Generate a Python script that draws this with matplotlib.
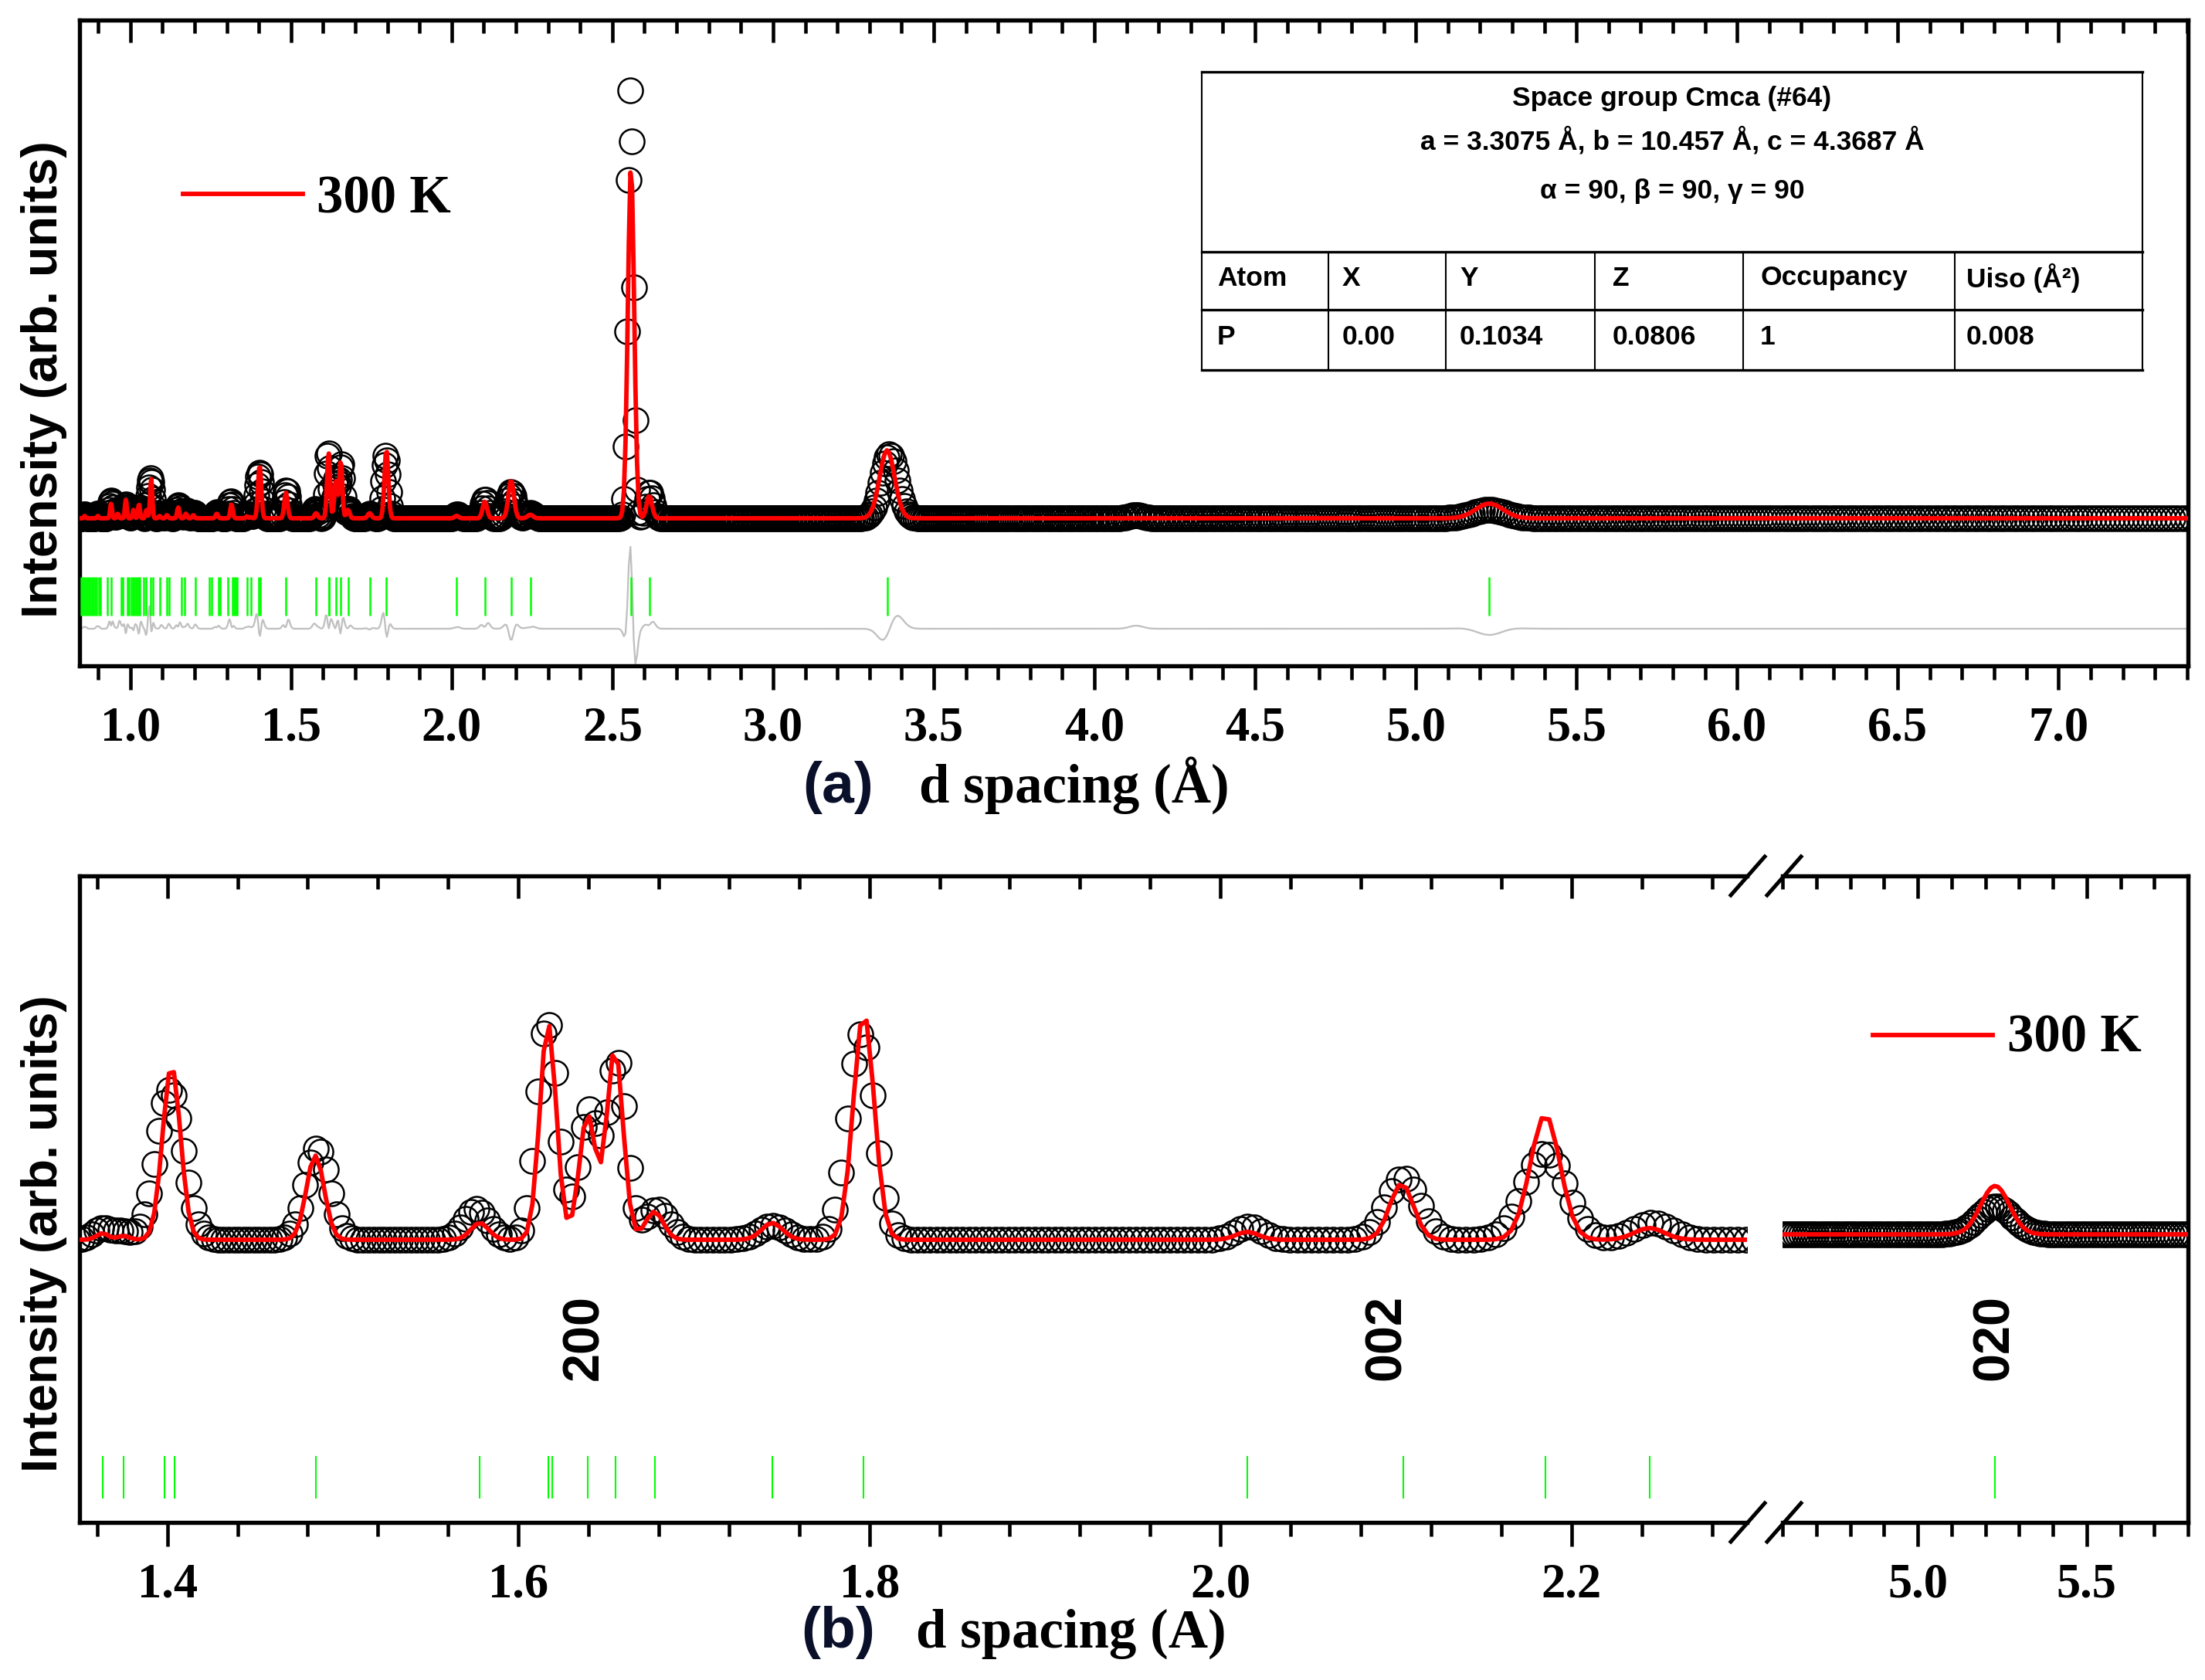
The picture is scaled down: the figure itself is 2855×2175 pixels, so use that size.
import numpy as np
import matplotlib
matplotlib.use('Agg')
import matplotlib.pyplot as plt
from matplotlib.lines import Line2D
from matplotlib.ticker import MultipleLocator, FormatStrFormatter

plt.rcParams['font.family'] = 'Liberation Serif'
plt.rcParams['font.weight'] = 'bold'

W, H = 2855, 2175

# time-of-flight bins (constant dd/d)
d_first = 0.84
d_last = 7.45
bin_ratio = 0.002

obs_d = [0.858, 0.899, 0.940, 0.965, 0.986, 1.012, 1.030, 1.063, 1.095, 1.118,
         1.150, 1.175, 1.200, 1.270, 1.313, 1.363, 1.375, 1.4015, 1.4855, 1.576,
         1.6165, 1.640, 1.656, 1.679, 1.745, 1.7955, 2.016, 2.104, 2.185, 2.246,
         2.557, 2.616, 3.362, 4.130, 5.229]
obs_h = [0.5, 0.6, 2.3, 1.2, 1.8, 1.0, 1.4, 5.2, 0.6, 0.8,
         1.7, 1.0, 0.7, 0.8, 2.2, 0.45, 0.3, 5.9, 3.6, 1.2,
         8.6, 5.0, 7.0, 1.2, 0.56, 8.1, 0.52, 2.45, 3.4, 0.66,
         55.6, 3.4, 8.3, 0.4, 1.1]
obs_w = [0.010, 0.010, 0.012, 0.012, 0.012, 0.012, 0.012, 0.013, 0.012, 0.012,
         0.013, 0.013, 0.013, 0.014, 0.014, 0.012, 0.012, 0.018, 0.016, 0.016,
         0.014, 0.013, 0.013, 0.016, 0.018, 0.018, 0.018, 0.022, 0.028, 0.026,
         0.020, 0.025, 0.060, 0.050, 0.120]

# calculated (refined) peaks
calc_d = [0.858, 0.899, 0.940, 0.961, 0.986, 1.010, 1.027, 1.050, 1.065, 1.091,
          1.114, 1.149, 1.173, 1.196, 1.269, 1.315, 1.363, 1.375, 1.4024, 1.4843,
          1.578, 1.6169, 1.6394, 1.655, 1.6775, 1.7446, 1.7968, 2.0153, 2.1032, 2.185,
          2.2444, 2.558, 2.615, 3.355, 5.229]
calc_h = [0.3, 0.3, 1.9, 0.6, 2.4, 1.1, 1.8, 1.1, 5.1, 0.3,
          0.4, 1.4, 0.6, 0.4, 0.6, 1.8, 0.25, 0.15, 6.8, 3.3,
          0.66, 8.5, 4.9, 7.5, 1.1, 0.66, 8.9, 0.31, 2.2, 4.9,
          0.46, 45.5, 2.9, 8.8, 1.9]
calc_w = [0.006, 0.006, 0.007, 0.007, 0.007, 0.007, 0.007, 0.007, 0.008, 0.008,
          0.008, 0.008, 0.008, 0.008, 0.009, 0.009, 0.008, 0.008, 0.012, 0.012,
          0.012, 0.011, 0.011, 0.011, 0.012, 0.014, 0.014, 0.015, 0.016, 0.020,
          0.020, 0.023, 0.020, 0.055, 0.100]

# Bragg reflection positions (green ticks)
bragg_d = [0.846, 0.851, 0.856, 0.861, 0.866, 0.871, 0.876, 0.881, 0.886, 0.891,
           0.896, 0.901, 0.906, 0.928, 0.940, 0.971, 0.976, 0.992, 0.997, 1.002,
           1.007, 1.012, 1.017, 1.022, 1.027, 1.030, 1.042, 1.048, 1.064, 1.070,
           1.093, 1.114, 1.121, 1.159, 1.170, 1.202, 1.245, 1.252, 1.275, 1.280,
           1.303, 1.317, 1.322, 1.327, 1.333, 1.363, 1.375, 1.3984, 1.404, 1.4847,
           1.578, 1.6173, 1.6193, 1.6394, 1.6554, 1.678, 1.7446, 1.7968, 2.0153, 2.104,
           2.185, 2.2444, 2.559, 2.615, 3.357, 5.229]

hkl_text = ['200', '002', '020']
hkl_d = [1.6377, 2.095, 5.229]

table_head = ['Space group Cmca (#64)',
              'a = 3.3075 Å, b = 10.457 Å, c = 4.3687 Å',
              'α = 90, β = 90, γ = 90']
table_cols = ['Atom', 'X', 'Y', 'Z', 'Occupancy', 'Uiso (Å²)']
table_vals = ['P', '0.00', '0.1034', '0.0806', '1', '0.008']


def profile(x, pos, height, fwhm):
    y = np.zeros_like(x)
    for p, h, w in zip(pos, height, fwhm):
        s = w / 2.3548
        y += h * np.exp(-0.5 * ((x - p) / s) ** 2)
    return y


nbin = int(np.log(d_last / d_first) / np.log(1 + bin_ratio)) + 1
d = d_first * (1 + bin_ratio) ** np.arange(nbin)
yobs = profile(d, obs_d, obs_h, obs_w)
ycalc = profile(d, calc_d, calc_h, calc_w)
ydiff = yobs - ycalc


def fx(x):
    return x / W


def fy(y):
    return 1 - y / H


def rect(l, t, r, b):
    return [fx(l), fy(b), fx(r) - fx(l), fy(t) - fy(b)]


def style_x(ax, major, minor, fmt, lo, hi):
    ax.set_xlim(lo, hi)
    ax.xaxis.set_major_locator(MultipleLocator(major))
    ax.xaxis.set_minor_locator(MultipleLocator(minor))
    ax.xaxis.set_major_formatter(FormatStrFormatter(fmt))
    ax.tick_params(axis='x', which='major', direction='out', length=7.5, width=1.1,
                   labelsize=15, pad=5)
    ax.tick_params(axis='x', which='minor', direction='out', length=4.2, width=1.1)
    ax.tick_params(axis='y', left=False, right=False, labelleft=False)
    for s in ax.spines.values():
        s.set_linewidth(1.3)
    tw = ax.twiny()
    tw.set_xlim(lo, hi)
    tw.xaxis.set_major_locator(MultipleLocator(major))
    tw.xaxis.set_minor_locator(MultipleLocator(minor))
    tw.tick_params(axis='x', which='major', direction='in', length=7.0, width=1.1,
                   labeltop=False)
    tw.tick_params(axis='x', which='minor', direction='in', length=4.0, width=1.1)
    for s in tw.spines.values():
        s.set_visible(False)
    return tw


def draw_data(ax, tick_lo, tick_hi, tick_lw):
    ax.plot(d, yobs, 'o', mfc='none', mec='black', ms=7.7, mew=0.6, zorder=2)
    ax.plot(d, ycalc, color='#ff0000', lw=1.4, zorder=3)
    ax.vlines(bragg_d, tick_lo, tick_hi, color='#00ff00', lw=tick_lw, zorder=3)


fig = plt.figure(figsize=(W / 300, H / 300), dpi=300)

# ---- (a) full pattern
ax1 = fig.add_axes(rect(103, 26, 2833, 862))
draw_data(ax1, -12.6, -7.6, 0.6)
ax1.plot(d, ydiff - 14.3, color='#c0c0c0', lw=0.55, zorder=2)
ax1.set_ylim(-19.1, 64.5)
style_x(ax1, 0.5, 0.1, '%.1f', 0.842, 7.403)

# ---- (b) zoom with broken axis
y_lo, y_hi = -11.09, 14.27
shift = 0.21
ax2 = fig.add_axes(rect(103, 1134, 2262, 1971))
draw_data(ax2, -10.15, -8.48, 0.5)
ax2.set_ylim(y_lo, y_hi)
style_x(ax2, 0.2, 0.04, '%.1f', 1.35, 2.30)
ax2.spines['right'].set_visible(False)

ax3 = fig.add_axes(rect(2308, 1134, 2833, 1971))
draw_data(ax3, -10.15 - shift, -8.48 - shift, 0.5)
ax3.set_ylim(y_lo - shift, y_hi - shift)
style_x(ax3, 0.5, 0.1, '%.1f', 4.6, 5.8)
ax3.spines['left'].set_visible(False)

for t, x in zip(hkl_text[:2], hkl_d[:2]):
    ax2.text(x, -3.82, t, rotation=90, ha='center', va='center', fontsize=16,
             family='Liberation Sans', weight='bold')
ax3.text(hkl_d[2], -3.82 - shift, hkl_text[2], rotation=90, ha='center', va='center',
         fontsize=16, family='Liberation Sans', weight='bold')

# break marks
for ys in (1134, 1971):
    for xc in (2263, 2310):
        fig.add_artist(Line2D([fx(xc - 22), fx(xc + 22)], [fy(ys + 25), fy(ys - 25)],
                              color='black', lw=1.2))

# legends
for (x0, x1, yl, xt, yt) in [(237, 392, 251, 410, 275), (2425, 2580, 1340, 2599, 1361)]:
    fig.add_artist(Line2D([fx(x0), fx(x1)], [fy(yl), fy(yl)], color='#ff0000', lw=1.4))
    fig.text(fx(xt), fy(yt), '300 K', fontsize=16.5, ha='left', va='baseline')

# axis titles
for yc in (491, 1597):
    fig.text(fx(57), fy(yc), 'Intensity (arb. units)', rotation=90, ha='center',
             va='center', fontsize=15.5, family='Liberation Sans', weight='bold')
fig.text(fx(1085), fy(1039), '(a)', ha='center', va='baseline', fontsize=18,
         family='Liberation Sans', weight='bold', color='#0a0f2a')
fig.text(fx(1190), fy(1039), 'd spacing (Å)', ha='left', va='baseline', fontsize=17)
fig.text(fx(1085), fy(2133), '(b)', ha='center', va='baseline', fontsize=18,
         family='Liberation Sans', weight='bold', color='#0a0f2a')
fig.text(fx(1186), fy(2133), 'd spacing (A)', ha='left', va='baseline', fontsize=17)

# structure table
tl, tr = 1556, 2774
for yy in (93, 326, 401, 479):
    fig.add_artist(Line2D([fx(tl), fx(tr)], [fy(yy), fy(yy)], color='black', lw=0.8))
for xx in (tl, tr):
    fig.add_artist(Line2D([fx(xx), fx(xx)], [fy(93), fy(479)], color='black', lw=0.5))
for xx in (1720, 1872, 2065, 2257, 2531):
    fig.add_artist(Line2D([fx(xx), fx(xx)], [fy(326), fy(479)], color='black', lw=0.5))
for t, yy in zip(table_head, (128, 182, 248)):
    fig.text(fx((tl + tr) / 2), fy(yy), t, ha='center', va='center', fontsize=8.5,
             family='Liberation Sans', weight='bold')
col_x = [1576, 1738, 1890, 2088, 2279, 2546]
for t, xx in zip(table_cols, col_x):
    fig.text(fx(xx), fy(360), t, ha='left', va='center', fontsize=8.5,
             family='Liberation Sans', weight='bold')
for t, xx in zip(table_vals, col_x):
    fig.text(fx(xx), fy(436), t, ha='left', va='center', fontsize=8.5,
             family='Liberation Sans', weight='bold')

fig.savefig('out.png', dpi=300)
